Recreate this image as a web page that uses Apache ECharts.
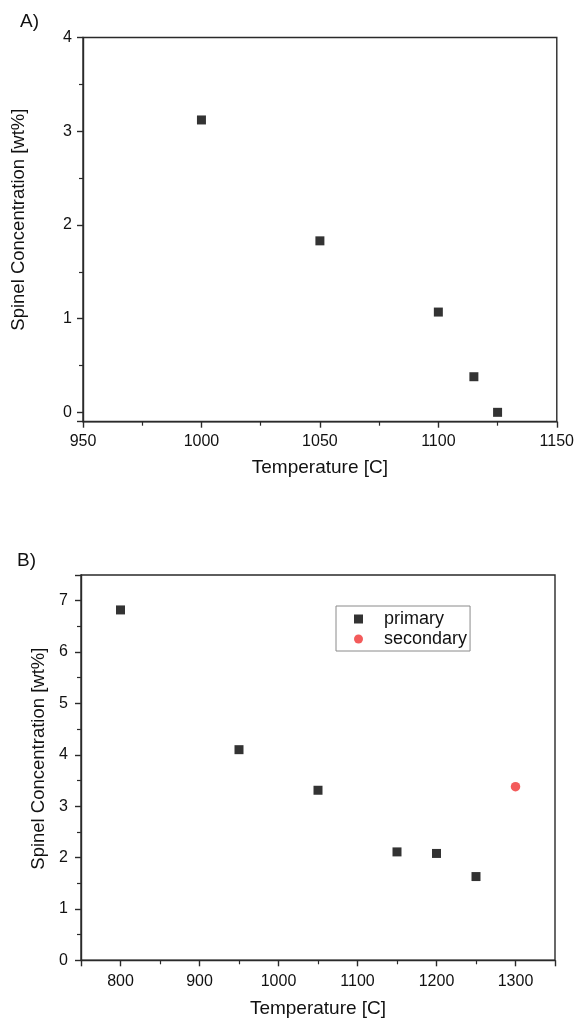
<!DOCTYPE html>
<html>
<head>
<meta charset="utf-8">
<script src="https://cdn.jsdelivr.net/npm/echarts@6/dist/echarts.min.js"></script>
<style>
html,body{margin:0;padding:0;background:#fff;}
#c{width:577px;height:1026px;}
</style>
</head>
<body>
<div id="c"></div>
<script>
// Panel A data
const aTemps = [1000, 1050, 1100, 1115, 1125];
const aSpinel = [3.12, 1.83, 1.07, 0.38, 0.0];
const aXTicks = [950, 1000, 1050, 1100, 1150];
const aYTicks = [0, 1, 2, 3, 4];

// Panel B data
const bPrimaryTemps = [800, 950, 1050, 1150, 1200, 1250];
const bPrimarySpinel = [6.82, 4.10, 3.31, 2.11, 2.08, 1.63];
const bSecondaryTemps = [1300];
const bSecondarySpinel = [3.38];
const bXTicks = [800, 900, 1000, 1100, 1200, 1300];
const bYTicks = [0, 1, 2, 3, 4, 5, 6, 7];

const FONT = '"Liberation Sans", Arial, Helvetica, sans-serif';
const AX = '#2a2a2a';
const TXT = '#111';

function pairs(xs, ys) { return xs.map((x, i) => [x, ys[i]]); }

function makeAxis(opt) {
  const ticks = opt.ticks;
  return Object.assign({
    type: 'value',
    gridIndex: opt.grid,
    min: opt.min, max: opt.max,
    name: opt.name,
    nameLocation: 'middle',
    nameGap: opt.nameGap,
    nameRotate: opt.nameRotate,
    nameTextStyle: Object.assign({ fontFamily: FONT, fontSize: opt.nameSize || 19, color: TXT }, opt.namePad ? { padding: opt.namePad } : {}),
    axisLine: { show: true, onZero: false, lineStyle: { color: AX, width: 1.4 } },
    axisTick: { show: true, inside: false, length: 6, lineStyle: { color: AX, width: 1.4 } },
    minorTick: { show: true, splitNumber: 2, length: 4, lineStyle: { color: AX, width: 1.2 } },
    splitLine: { show: false },
    minorSplitLine: { show: false },
    axisLabel: {
      fontFamily: FONT, fontSize: 16, color: TXT, margin: opt.margin,
      showMinLabel: true, showMaxLabel: true,
      formatter: v => (ticks.some(t => Math.abs(t - v) < 1e-9) ? String(Math.round(v)) : '')
    }
  }, opt.extra || {});
}

const chart = echarts.init(document.getElementById('c'), null, { renderer: 'canvas' });
chart.setOption({
  backgroundColor: '#fff',
  animation: false,
  title: [
    { text: 'A)', left: 15, top: 7, textStyle: { fontFamily: FONT, fontSize: 19, fontWeight: 'normal', color: TXT } },
    { text: 'B)', left: 12, top: 546, textStyle: { fontFamily: FONT, fontSize: 19, fontWeight: 'normal', color: TXT } }
  ],
  grid: [
    { left: 83, right: 18, top: 37.5, height: 384.2, show: true, borderColor: AX, borderWidth: 1.4, backgroundColor: 'transparent' },
    { left: 81, right: 22, top: 575, height: 385.3, show: true, borderColor: AX, borderWidth: 1.4, backgroundColor: 'transparent' }
  ],
  xAxis: [
    makeAxis({ grid: 0, min: 950, max: 1150, ticks: aXTicks, name: 'Temperature [C]', nameGap: 37, margin: 12 }),
    makeAxis({ grid: 1, min: 750, max: 1350, ticks: bXTicks, name: 'Temperature [C]', nameGap: 39, margin: 13 })
  ],
  yAxis: [
    makeAxis({ grid: 0, min: -0.1, max: 4, ticks: aYTicks, name: 'Spinel Concentration [wt%]', nameGap: 55, nameRotate: 90, margin: 11, nameSize: 18.5, namePad: [0, 0, 0, 20] }),
    makeAxis({ grid: 1, min: 0, max: 7.5, ticks: bYTicks, name: 'Spinel Concentration [wt%]', nameGap: 25, nameRotate: 90, margin: 13, nameSize: 18.5, namePad: [0, 0, 0, 18], extra: { interval: 1 } })
  ],
  legend: {
    show: true,
    data: [
      { name: 'primary', icon: 'rect' },
      { name: 'secondary', icon: 'circle' }
    ],
    orient: 'vertical',
    left: 336, top: 606,
    itemWidth: 9, itemHeight: 9,
    itemGap: 2,
    padding: [4, 3, 3, 18],
    borderColor: '#8a8a8a', borderWidth: 1,
    textStyle: { fontFamily: FONT, fontSize: 18, color: TXT, padding: [0, 0, 0, 16] }
  },
  series: [
    {
      name: 'A', type: 'scatter', xAxisIndex: 0, yAxisIndex: 0,
      symbol: 'rect', symbolSize: 9, itemStyle: { color: '#000' },
      data: pairs(aTemps, aSpinel)
    },
    {
      name: 'primary', type: 'scatter', xAxisIndex: 1, yAxisIndex: 1,
      symbol: 'rect', symbolSize: 9, itemStyle: { color: '#000' },
      data: pairs(bPrimaryTemps, bPrimarySpinel)
    },
    {
      name: 'secondary', type: 'scatter', xAxisIndex: 1, yAxisIndex: 1,
      symbol: 'circle', symbolSize: 9.5, itemStyle: { color: '#f03232' },
      data: pairs(bSecondaryTemps, bSecondarySpinel)
    }
  ]
});
</script>
</body>
</html>
